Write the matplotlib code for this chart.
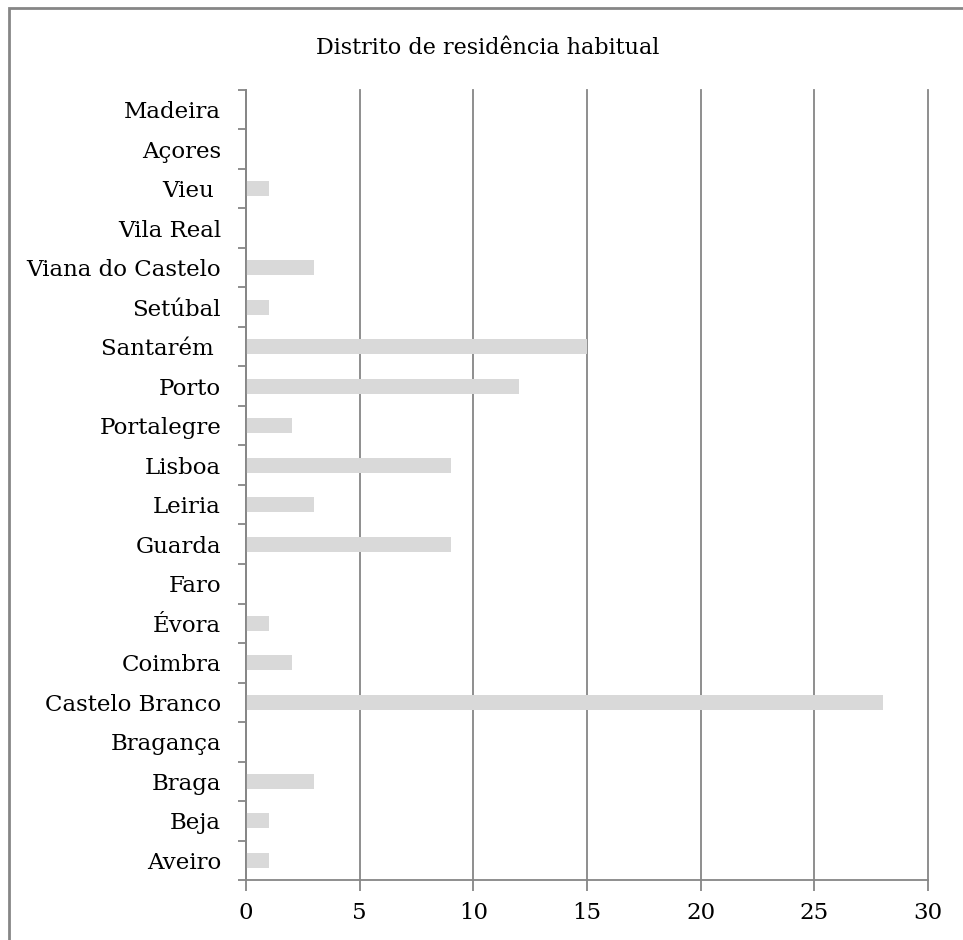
import matplotlib
matplotlib.use("Agg")
import matplotlib.pyplot as plt
import numpy as np
from matplotlib.patches import Rectangle

# data, bottom to top as in the chart
districts = ["Aveiro", "Beja", "Braga", "Bragança", "Castelo Branco", "Coimbra",
             "Évora", "Faro", "Guarda", "Leiria", "Lisboa", "Portalegre", "Porto",
             "Santarém ", "Setúbal", "Viana do Castelo", "Vila Real", "Vieu ",
             "Açores", "Madeira"]
counts = [1, 1, 3, 0, 28, 2, 1, 0, 9, 3, 9, 2, 12, 15, 1, 3, 0, 1, 0, 0]
x_ticks = [0, 5, 10, 15, 20, 25, 30]
title = "Distrito de residência habitual"

plt.rcParams['font.family'] = ['DejaVu Serif']
line_col = "#868686"

fig = plt.figure(figsize=(9.63, 9.40), dpi=100)
ax = fig.add_axes([0.2555, 0.0638, 0.9637 - 0.2555, 0.9043 - 0.0638])

y = np.arange(len(districts))
ax.barh(y, counts, height=0.38, color="#d9d9d9", zorder=2)

ax.set_xlim(0, 30)
ax.set_ylim(-0.5, len(districts) - 0.5)
ax.set_xticks(x_ticks)
ax.set_xticklabels([str(t) for t in x_ticks])
ax.set_yticks(y)
ax.set_yticklabels(districts)
ax.set_yticks(np.arange(len(districts) + 1) - 0.5, minor=True)

ax.tick_params(axis='y', which='major', length=0, pad=18, labelsize=16.5)
ax.tick_params(axis='y', which='minor', length=6, width=1.3, color=line_col)
ax.tick_params(axis='x', which='major', length=8, width=1.3, color=line_col,
               pad=8, labelsize=16.5)

ax.grid(axis='x', color=line_col, linewidth=1.3, zorder=1)
for gl in ax.get_xgridlines():
    gl.set_clip_on(False)
ax.set_axisbelow(True)
for s in ['top', 'right']:
    ax.spines[s].set_visible(False)
for s in ['left', 'bottom']:
    ax.spines[s].set_color(line_col)
    ax.spines[s].set_linewidth(1.3)

fig.text(488 / 963, 1 - 48 / 940, title, ha='center', va='center', fontsize=16)

# chart border (cropped at right and bottom)
fig.patches.append(Rectangle((9 / 963, -0.1), 1.2, 1 - 8 / 940 + 0.1,
                             transform=fig.transFigure, fill=False,
                             edgecolor=line_col, linewidth=2))

fig.savefig("out.png", dpi=100)
